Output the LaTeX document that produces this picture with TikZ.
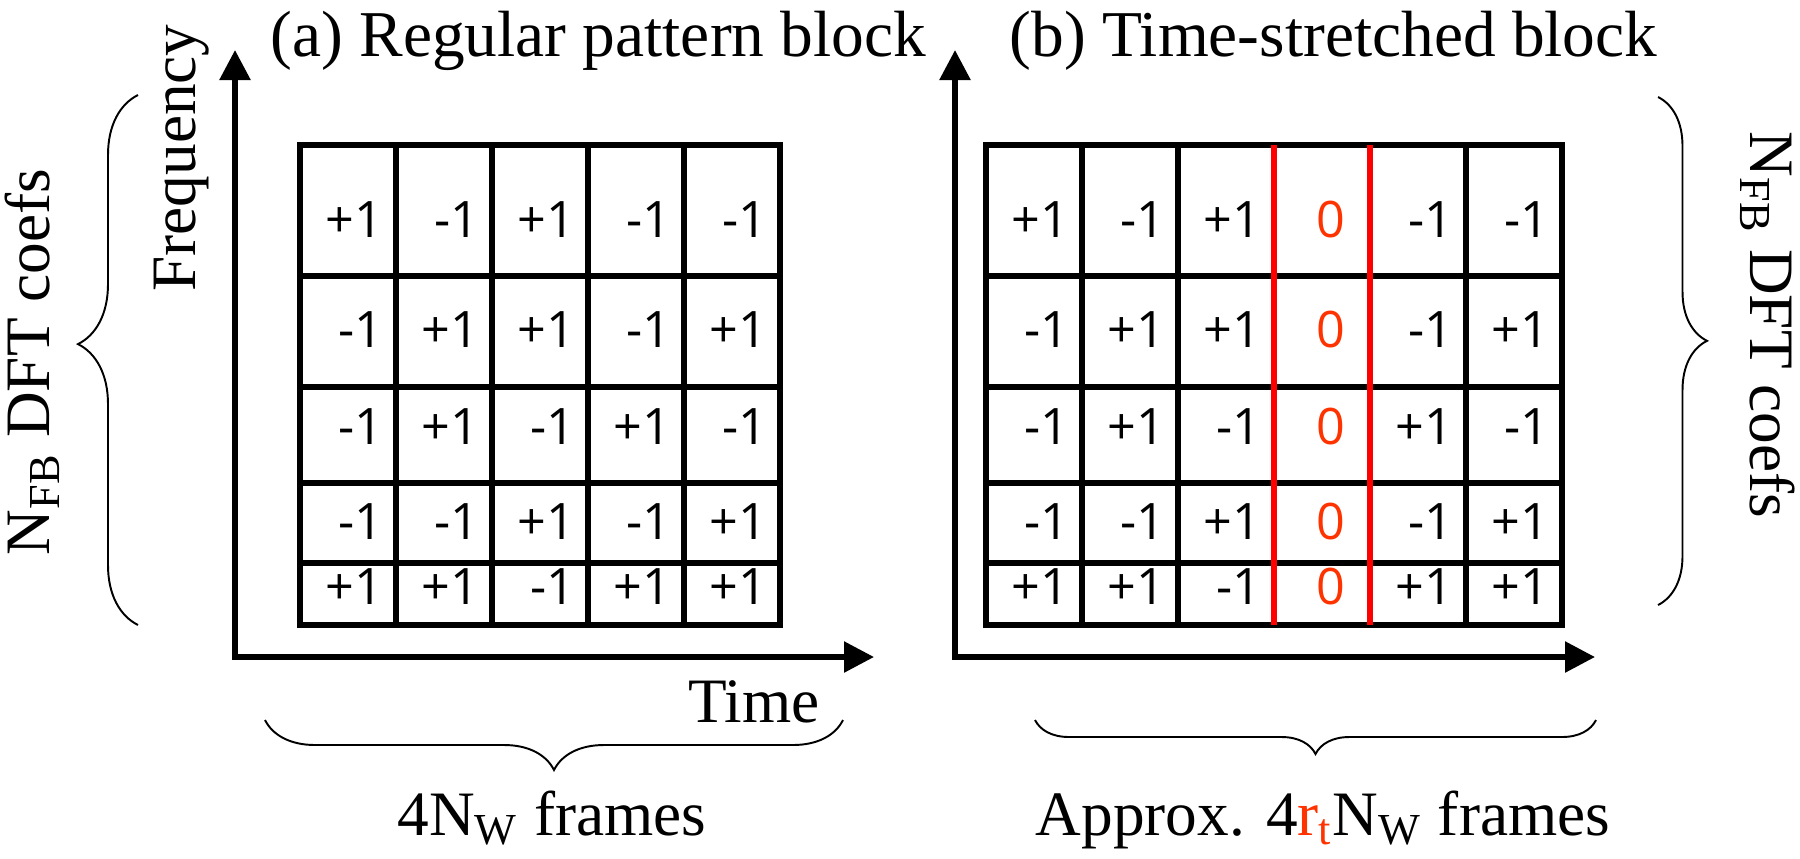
\documentclass[tikz,border=0pt]{standalone}
\usepackage{fontspec}
\setmainfont{Liberation Serif}
\newfontfamily\cellfont{Open Sans}
\usetikzlibrary{arrows.meta,decorations.pathreplacing}
\definecolor{zerored}{HTML}{FF3300}

\begin{document}
\begin{tikzpicture}[x=0.1mm,y=0.1mm,
    gridline/.style={line width=1.5pt},
    axisline/.style={line width=1.6pt,{Triangle[length=3mm,width=3mm]}-{Triangle[length=3mm,width=3mm]}},
    cutline/.style={line width=1.5pt,red},
    brc/.style={decorate,line width=0.55pt},
    cell/.style={anchor=east,inner sep=0pt,font=\cellfont\fontsize{14.3}{16}\selectfont},
    zero/.style={inner sep=0pt,text=zerored,font=\cellfont\fontsize{14.3}{16}\selectfont},
    lbl/.style={inner sep=0pt,font=\fontsize{18}{20}\selectfont},
    head/.style={lbl,font=\fontsize{18.6}{20}\selectfont}]
  \useasboundingbox (0,0) rectangle (1800,858);

  % (a) regular block
  \node[head,anchor=base west] (ta) at (270,802) {(a) Regular pattern block};
  \coordinate (oa) at (235,201);
  \coordinate (fa) at (235,808);
  \coordinate (xa) at (874,201);
  \draw[axisline] (fa) -- (oa) -- (xa);
  \node[lbl,rotate=90,anchor=base] (fqa) at (195,700) {Frequency};
  \node[lbl,anchor=base] (tma) at (754,136) {Time};
  \draw[gridline] (300,233) rectangle (780,713);
  \foreach \x in {396,492,588,684} \draw[gridline] (\x,233) -- (\x,713);
  \foreach \y in {295,375,471,582} \draw[gridline] (300,\y) -- (780,\y);
  \coordinate (sa1) at (138,233);
  \coordinate (sa2) at (138,763);
  \draw[brc,decoration={brace,amplitude=6mm,aspect=0.53}] (sa1) -- (sa2);
  \node[lbl,rotate=90,anchor=base] (na) at (50,496) {N\textsubscript{FB} DFT coefs};
  \coordinate (ba1) at (843,138);
  \coordinate (ba2) at (265,138);
  \draw[brc,decoration={brace,amplitude=5mm}] (ba1) -- (ba2);
  \node[lbl,anchor=base] (wa) at (552,23) {4N\textsubscript{W} frames};

  % (b) stretched block
  \node[head,anchor=base west] (tb) at (1009,802) {(b) Time-stretched block};
  \coordinate (ob) at (955,201);
  \coordinate (fb) at (955,808);
  \coordinate (xb) at (1595,201);
  \draw[axisline] (fb) -- (ob) -- (xb);
  \draw[gridline] (986,233) rectangle (1562,713);
  \foreach \x in {1082,1178,1466} \draw[gridline] (\x,233) -- (\x,713);
  \foreach \y in {295,375,471,582} \draw[gridline] (986,\y) -- (1562,\y);
  \foreach \x in {1274,1370} \draw[cutline] (\x,233) -- (\x,713);
  \coordinate (sb1) at (1658,761);
  \coordinate (sb2) at (1658,253);
  \draw[brc,decoration={brace,amplitude=4.9mm,aspect=0.48}] (sb1) -- (sb2);
  \node[lbl,rotate=-90,anchor=base] (nb) at (1750,533) {N\textsubscript{FB} DFT coefs};
  \coordinate (bb1) at (1596,138);
  \coordinate (bb2) at (1035,138);
  \draw[brc,decoration={brace,amplitude=3.4mm}] (bb1) -- (bb2);
  \node[lbl,anchor=base] (wb) at (1323,23) {Approx. 4\textcolor{zerored}{r\textsubscript{t}}N\textsubscript{W} frames};

  \foreach \y/\vals [count=\r] in {638/{+1,-1,+1,-1,-1},528/{-1,+1,+1,-1,+1},431/{-1,+1,-1,+1,-1},336/{-1,-1,+1,-1,+1},271/{+1,+1,-1,+1,+1}} {
    \node[zero] (b\r4) at (1331,\y) {0};
    \foreach \v [count=\c] in \vals {
      \pgfmathtruncatemacro\k{\c+(\c>3)}
      \node[cell] (a\r\c) at (288+96*\c,\y) {\v};
      \node[cell] (b\r\k) at (974+96*\k,\y) {\v};
    }
  }
\end{tikzpicture}
\end{document}
